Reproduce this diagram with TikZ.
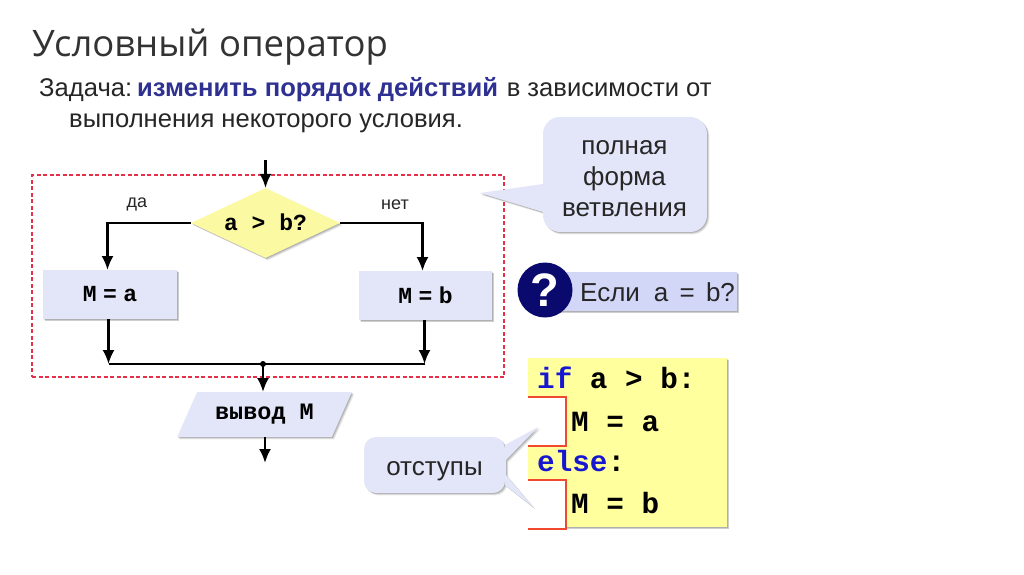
\documentclass[tikz,border=0pt]{standalone}
\usepackage{fontspec}
\setmainfont{Liberation Sans}
\setmonofont{Liberation Mono}
\newfontfamily\titlefont{Open Sans}
\usetikzlibrary{shapes.geometric,arrows.meta,shadows}
\definecolor{boxblue}{HTML}{E3E6F8}
\definecolor{qblue}{HTML}{D3D7F7}
\definecolor{diayellow}{HTML}{FBF9A2}
\definecolor{codeyellow}{HTML}{FFFF9E}
\definecolor{navy}{HTML}{0A0A6E}
\definecolor{boldblue}{HTML}{2E3192}
\definecolor{kwblue}{HTML}{1717D0}
\definecolor{dashred}{HTML}{E5304A}
\definecolor{brred}{HTML}{F0492F}
\tikzset{
  softshadow/.style={
    general shadow={shadow xshift=2.4pt,shadow yshift=-2.4pt,fill=black,opacity=.08},
    general shadow={shadow xshift=1.6pt,shadow yshift=-1.6pt,fill=black,opacity=.12},
    general shadow={shadow xshift=.8pt,shadow yshift=-.8pt,fill=black,opacity=.14}},
  procbox/.style={rectangle,fill=boxblue,softshadow,inner sep=0pt,font=\ttfamily\bfseries\fontsize{23}{24}\selectfont},
  flow/.style={line width=2.2pt,draw=black,-{Latex[length=14pt,width=12pt]}},
  plainflow/.style={line width=2.2pt,draw=black},
  lbl/.style={inner sep=0pt,font=\fontsize{18}{20}\selectfont,text=black!85},
  bodytxt/.style={inner sep=0pt,anchor=base west,font=\fontsize{25.6}{30}\selectfont,text=black!85},
  codetxt/.style={inner sep=0pt,anchor=base west,font=\ttfamily\bfseries\fontsize{29.3}{32}\selectfont},
  calltxt/.style={inner sep=0pt,align=center,font=\fontsize{26}{31}\selectfont,text=black!85},
  callshape/.style={fill=boxblue,softshadow},
  bracket/.style={draw=brred,line width=1.4pt},
}
\begin{document}
\begin{tikzpicture}[x=1pt,y=-1pt]
\useasboundingbox (0,0) rectangle (1024,574);
\fill[white] (0,0) rectangle (1024,574);

% headings
\node[inner sep=0pt,anchor=base west,font=\titlefont\fontsize{36.5}{40}\selectfont,text=black!80] (title) at (32,56) {Условный оператор};
\node[bodytxt] (task1) at (39,96) {Задача:\hspace{5pt}\textcolor{boldblue}{\bfseries изменить порядок действий}\hspace{1.5pt} в зависимости от};
\node[bodytxt] (task2) at (69,127) {выполнения некоторого условия.};

% dashed frame
\node[draw=dashred,dashed,dash pattern=on 4pt off 2.5pt,line width=1.3pt,minimum width=472pt,minimum height=202pt,inner sep=0pt] (frame) at (268,276) {};

% flow chart
\coordinate (start) at (265.5,160);
\node[diamond,aspect=2.13,fill=diayellow,softshadow,minimum width=149pt,minimum height=70pt,inner sep=0pt,font=\ttfamily\bfseries\fontsize{23}{24}\selectfont] (cond) at (265.5,223) {\raisebox{2pt}{a > b?}};
\node[procbox,minimum width=134pt,minimum height=49pt] (ma) at (110,294.5) {\raisebox{1pt}{M\hspace{6.5pt}=\hspace{6.5pt}a}};
\node[procbox,minimum width=133pt,minimum height=49pt] (mb) at (425.5,295.5) {\raisebox{1pt}{M\hspace{6.5pt}=\hspace{6.5pt}b}};
\coordinate (ja) at (108.5,364);
\coordinate (jb) at (424.5,364);
\coordinate (jm) at (263,364);
\coordinate (end) at (265,463);
\node[trapezium,trapezium left angle=54,trapezium right angle=126,trapezium stretches=true,minimum width=175pt,minimum height=45pt,inner sep=0pt,fill=boxblue,softshadow,font=\ttfamily\bfseries\fontsize{23.5}{24}\selectfont] (out) at (264.5,414.5) {\raisebox{-3pt}{вывод M}};

\draw[flow] (start) -- (cond.north);
\draw[flow] (cond.west) -| (107.5,270);
\draw[flow] (cond.east) -| (422.5,271);
\draw[plainflow] (ja) -- (jb);
\draw[flow] (108.5,319) -- (ja);
\draw[flow] (424.5,320) -- (jb);
\fill (jm) circle (3pt);
\draw[flow] (jm) -- (263,392);
\draw[flow] (265,437) -- (end);

\node[lbl] (yes) at (137,204) {да};
\node[lbl] (no) at (395,205) {нет};

% callout: full form
\path[callshape] (543,212) [rounded corners=17pt] -- (543,232) -- (707,232) -- (707,117) -- (543,117) [sharp corners] -- (543,184) -- (480,193) -- cycle;
\node[calltxt] (form) at (624.5,179) {полная\\форма\\ветвления};

% question
\node[fill=qblue,softshadow,minimum width=192pt,minimum height=39pt,inner sep=0pt] (qbar) at (641,291.5) {};
\node[circle,fill=navy,minimum size=55pt,inner sep=0pt,text=white,font=\bfseries\fontsize{47}{47}\selectfont] (qmark) at (545,290) {?};
\node[inner sep=0pt,anchor=base west,font=\fontsize{26}{30}\selectfont,text=black!85] (qtext) at (580,301) {Если\hspace{14pt}a\hspace{4pt} = \hspace{4pt}b?};

% code
\node[fill=codeyellow,softshadow,minimum width=199pt,minimum height=169pt,inner sep=0pt] (code) at (627.5,442.5) {};
\fill[white] (527,397) rectangle (566,446);
\fill[white] (527,480) rectangle (566,532);
\draw[bracket] (528,397) -- (566,397) -- (566,446) -- (528,446);
\draw[bracket] (528,480) -- (566,480) -- (566,529) -- (528,529);
\node[codetxt] (l1) at (537,388) {\textcolor{kwblue}{if} a > b:};
\node[codetxt] (l2) at (571,431) {M = a};
\node[codetxt] (l3) at (537,471) {\textcolor{kwblue}{else}:};
\node[codetxt] (l4) at (571,513) {M = b};

% callout: indents
\path[callshape] (505,465) [rounded corners=12pt] -- (505,437) -- (364,437) -- (364,493) -- (505,493) [sharp corners] -- (505,485) -- (533,507) -- (506,475) -- (506,460) -- (538,427) -- (505,445) -- cycle;
\node[calltxt] (ind) at (434.5,471) {отступы};
\end{tikzpicture}
\end{document}
